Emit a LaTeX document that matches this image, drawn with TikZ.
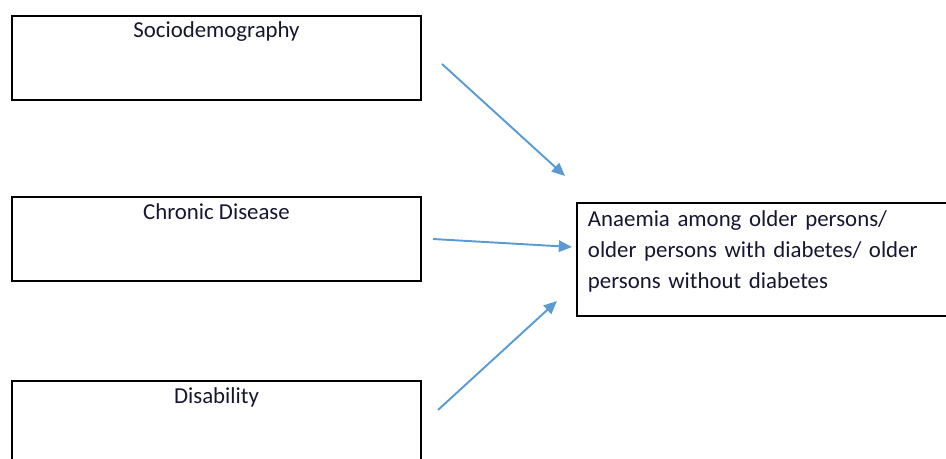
\documentclass[tikz,border=0pt]{standalone}
\usepackage{fontspec}
\setmainfont{Carlito}
\usetikzlibrary{positioning,arrows.meta}
\definecolor{arrowblue}{RGB}{91,155,213}
\definecolor{textdark}{RGB}{22,22,48}

\tikzset{
  factor/.style={draw, line width=1.1pt, inner sep=0pt, anchor=base,
    minimum width=8.18cm, text height=0.44cm, text depth=1.24cm,
    font=\fontsize{13}{17.4}\selectfont, text=textdark},
  outcome/.style={draw, line width=1.1pt, anchor=base west, inner xsep=0.22cm, inner ysep=0pt,
    text width=7.64cm, align=left, text height=0.48cm, text depth=1.78cm,
    font=\fontsize{13}{17.4}\selectfont, text=textdark},
  link/.style={arrowblue, line width=1.1pt, -{Triangle[length=7.5pt,width=6.5pt]}}
}

\begin{document}
\begin{tikzpicture}[x=0.02cm, y=-0.02cm]
  \useasboundingbox (0,0) rectangle (946,459);
  \clip (0,0) rectangle (946,459);
  % risk factors
  \node[factor] (socio) at (216.5,37.7) {Sociodemography};
  \node[factor] (chronic) at (216.5,219) {Chronic Disease};
  \node[factor] (disab) at (216.5,403) {Disability};
  % outcome
  \node[outcome] (anaemia) at (576,227) {Anaemia among older persons/\\older persons with diabetes/ older\\persons without diabetes};
  % arrow ends
  \coordinate (socio out) at (442,64);
  \coordinate (chronic out) at (433,239);
  \coordinate (disab out) at (438,410);
  \coordinate (anaemia in1) at (565,176);
  \coordinate (anaemia in2) at (572,247);
  \coordinate (anaemia in3) at (557,301);
  \draw[link] (socio out) -- (anaemia in1);
  \draw[link] (chronic out) -- (anaemia in2);
  \draw[link] (disab out) -- (anaemia in3);
\end{tikzpicture}
\end{document}
